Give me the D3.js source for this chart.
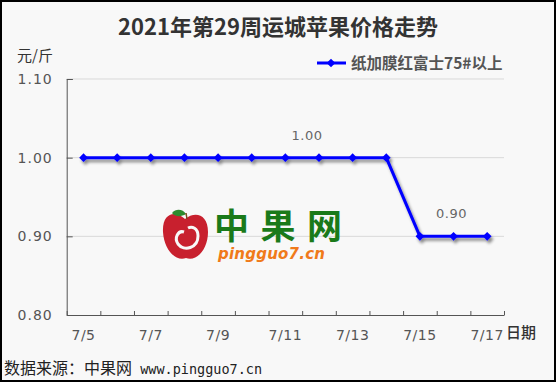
<!DOCTYPE html>
<html>
<head>
<meta charset="utf-8">
<script src="https://cdn.jsdelivr.net/npm/d3@7/dist/d3.min.js"></script>
<style>
  html, body { margin: 0; padding: 0; background: #fff; }
  svg { display: block; }
</style>
</head>
<body>
<div id="chart"></div>
<script>
// ---- data ----
const dates = ['7/5', '7/6', '7/7', '7/8', '7/9', '7/10', '7/11', '7/12', '7/13', '7/14', '7/15', '7/16', '7/17'];
const prices = [1.00, 1.00, 1.00, 1.00, 1.00, 1.00, 1.00, 1.00, 1.00, 1.00, 0.90, 0.90, 0.90];
const yTicks = [0.80, 0.90, 1.00, 1.10];
const xLabels = ['7/5', '7/7', '7/9', '7/11', '7/13', '7/15', '7/17'];
const labelDates = ['7/12', '7/16'];
const seriesName = '纸加膜红富士75#以上';

const W = 556, H = 382;
const cjk = '"Noto Sans CJK SC", "Noto Sans", sans-serif';

const svg = d3.select('#chart').append('svg')
    .attr('width', W).attr('height', H);

// drop shadow for the line
const defs = svg.append('defs');
defs.append('filter').attr('id', 'shadow')
    .attr('x', '-10%').attr('y', '-10%').attr('width', '130%').attr('height', '140%')
  .append('feDropShadow')
    .attr('dx', 2).attr('dy', 3).attr('stdDeviation', 1.6)
    .attr('flood-color', '#000').attr('flood-opacity', 0.45);

// background + frame
svg.append('rect').attr('x', 1).attr('y', 1).attr('width', W - 2).attr('height', H - 2)
    .attr('fill', '#f8f8f8').attr('stroke', '#000').attr('stroke-width', 2);

// scales
const plotLeft = 66.7, plotRight = 504, plotTop = 79, plotBottom = 315;
const xEdge = d3.scaleLinear().domain([0, dates.length]).range([plotLeft, plotRight]);
const x = d => xEdge(dates.indexOf(d) + 0.5);
const y = d3.scaleLinear().domain([0.8, 1.1]).range([plotBottom, plotTop]);

// title
svg.append('text').attr('x', 278).attr('y', 35)
    .attr('text-anchor', 'middle')
    .attr('font-family', cjk).attr('font-size', 22).attr('font-weight', 'bold')
    .attr('fill', '#333')
    .text('2021年第29周运城苹果价格走势');

// unit label
svg.append('text').attr('x', 17).attr('y', 61)
    .attr('font-family', cjk).attr('font-size', 15).attr('fill', '#333')
    .text('元/斤');

// gridlines
svg.append('g').selectAll('line')
    .data(yTicks.filter(t => t > 0.8)).enter()
    .append('line')
    .attr('x1', plotLeft).attr('x2', plotRight)
    .attr('y1', d => y(d)).attr('y2', d => y(d))
    .attr('stroke', '#d9d9d9').attr('stroke-width', 1);

// y axis
const yAxis = svg.append('g').attr('transform', `translate(${plotLeft},0)`)
    .call(d3.axisLeft(y).tickValues(yTicks).tickSize(-6).tickPadding(14)
        .tickFormat(d3.format('.2f')));
yAxis.select('.domain').attr('stroke', '#555');
yAxis.selectAll('.tick line').attr('stroke', '#555');
yAxis.selectAll('.tick text')
    .attr('font-family', '"DejaVu Sans", sans-serif').attr('font-size', 14)
    .attr('letter-spacing', 1).attr('fill', '#555');

// x axis
const xAxis = svg.append('g').attr('transform', `translate(0,${plotBottom})`)
    .call(d3.axisBottom(xEdge).tickValues(d3.range(dates.length + 1)).tickSize(-4)
        .tickSizeOuter(0).tickFormat(''));
xAxis.select('.domain').attr('stroke', '#555');
xAxis.selectAll('.tick line').attr('stroke', '#555');

svg.append('g').selectAll('text')
    .data(xLabels).enter()
    .append('text')
    .attr('x', d => x(d)).attr('y', 340)
    .attr('text-anchor', 'middle')
    .attr('font-family', '"DejaVu Sans", sans-serif').attr('font-size', 14)
    .attr('letter-spacing', 0.5).attr('fill', '#555')
    .text(d => d);

svg.append('text').attr('x', 506).attr('y', 338)
    .attr('font-family', cjk).attr('font-size', 15).attr('font-weight', 500)
    .attr('fill', '#333')
    .text('日期');

// watermark logo
const logo = svg.append('g');
logo.append('path')
    .attr('d', 'M185,219 C176,210 162,212 163,232 C164,250 176,262 186,258 C196,262 208,250 208,232 C208,214 195,211 185,219 Z')
    .attr('fill', '#c8202e');
logo.append('path')
    .attr('d', 'M184,232 C178,230 174,238 178,244 C184,252 198,248 198,236 C198,228 192,226 188,228')
    .attr('fill', 'none').attr('stroke', '#f8f8f8').attr('stroke-width', 3);
logo.append('path')
    .attr('d', 'M172,213 C176,208 183,209 186,214 C181,217 175,217 172,213 Z')
    .attr('fill', '#2e8b2e');
logo.append('line').attr('x1', 186).attr('y1', 213).attr('x2', 187).attr('y2', 219)
    .attr('stroke', '#7a4a1a').attr('stroke-width', 1.5);
logo.append('text').attr('x', 214).attr('y', 239)
    .attr('font-family', cjk).attr('font-size', 35).attr('font-weight', 'bold')
    .attr('fill', '#1a7a1a').attr('textLength', 128)
    .text('中果网');
logo.append('text').attr('x', 218).attr('y', 259)
    .attr('font-family', '"DejaVu Sans", sans-serif').attr('font-size', 15)
    .attr('font-weight', 'bold').attr('font-style', 'italic')
    .attr('fill', '#f07a1a').attr('textLength', 107)
    .text('pingguo7.cn');

// series line
const marker = d3.symbol().type(d3.symbolSquare).size(38);
const series = svg.append('g').attr('filter', 'url(#shadow)');
series.append('path')
    .datum(prices)
    .attr('fill', 'none').attr('stroke', '#0000ff').attr('stroke-width', 3)
    .attr('stroke-linejoin', 'round')
    .attr('d', d3.line().x((d, i) => x(dates[i])).y(d => y(d)));
series.selectAll('.pt')
    .data(prices).enter()
    .append('path')
    .attr('transform', (d, i) => `translate(${x(dates[i])},${y(d)}) rotate(45)`)
    .attr('d', marker)
    .attr('fill', '#0000ff');

// data labels
svg.append('g').selectAll('text')
    .data(labelDates).enter()
    .append('text')
    .attr('x', (d, i) => x(d) + (i === 0 ? -12 : -2))
    .attr('y', d => y(prices[dates.indexOf(d)]) - 18)
    .attr('text-anchor', 'middle')
    .attr('font-family', '"DejaVu Sans", sans-serif').attr('font-size', 13)
    .attr('letter-spacing', 0.5).attr('fill', '#666')
    .text(d => d3.format('.2f')(prices[dates.indexOf(d)]));

// legend
const lg = svg.append('g');
lg.append('line').attr('x1', 317).attr('x2', 346).attr('y1', 63).attr('y2', 63)
    .attr('stroke', '#0000ff').attr('stroke-width', 3);
lg.append('path').attr('transform', 'translate(331,63) rotate(45)')
    .attr('d', marker).attr('fill', '#0000ff');
lg.append('text').attr('x', 351).attr('y', 69)
    .attr('font-family', cjk).attr('font-size', 15.5).attr('font-weight', 'bold')
    .attr('fill', '#555')
    .text(seriesName);

// source footer
const src = svg.append('text').attr('x', 4).attr('y', 374).attr('fill', '#222');
src.append('tspan').attr('font-family', cjk).attr('font-size', 16)
    .text('数据来源：中果网');
src.append('tspan').attr('font-family', '"DejaVu Sans Mono", monospace').attr('font-size', 13.5)
    .text(' www.pingguo7.cn');
</script>
</body>
</html>
